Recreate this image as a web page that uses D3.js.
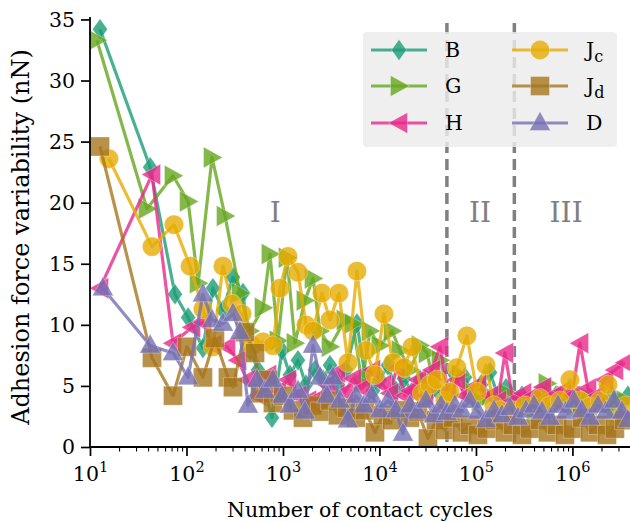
<!DOCTYPE html>
<html><head><meta charset="utf-8">
<script src="https://cdn.jsdelivr.net/npm/d3@7"></script>
<style>
body{margin:0;background:#fff}
svg{display:block}
text{font-family:"DejaVu Serif",serif;fill:#000}
</style>
</head><body>
<svg id="chart" width="630" height="522"></svg>
<script>
// Adhesion force variability versus number of contact cycles, six samples.
const seriesNames = ["B", "G", "H", "Jc", "Jd", "D"];

const cyclesB = [12.7, 42, 76, 104, 148, 188, 239, 303, 385, 455, 551, 651, 769, 977, 1180, 1430, 1730, 2150, 2600, 3070, 3720, 4500, 5840, 7080, 8570, 10100, 12250, 14800, 17950, 21700, 26300, 31800, 38500, 47700, 60600, 76900, 93100, 112700, 139700, 169100, 204700, 247700, 299700, 363000, 460000, 557500, 674900, 816600, 988600, 1197000, 1448000, 1753000, 2120000, 2566000, 3106000, 3758000];
const valuesB = [34.2, 22.9, 12.5, 10.6, 8.1, 13.0, 11.2, 13.9, 12.6, 7.9, 6.3, 4.6, 2.4, 7.9, 5.9, 7.1, 5.1, 6.3, 5.5, 6.7, 5.1, 6.3, 10.1, 5.9, 4.6, 5.5, 6.7, 4.6, 5.6, 4.5, 5.5, 4.2, 4.8, 4.0, 5.9, 5.7, 4.2, 5.1, 6.1, 4.2, 4.8, 3.8, 4.2, 3.7, 4.5, 3.8, 4.2, 3.7, 4.2, 3.4, 4.0, 3.4, 3.8, 4.2, 3.6, 4.2];

const cyclesG = [11.8, 38.9, 72.5, 104, 132, 184, 251, 358, 455, 621, 733, 887, 1100, 1330, 1690, 2050, 2420, 3070, 4390, 5310, 6590, 7980, 10100, 13500, 16300, 20700, 26300, 31100, 35800, 42400, 53800, 68300, 86600, 110000, 139700, 177300, 209600, 253700, 322000, 408600, 544200, 658900, 835700, 1062000, 1349000, 1710000, 2171000, 2754000, 3499000];
const valuesG = [33.3, 19.5, 22.2, 20.1, 13.4, 23.7, 18.9, 12.6, 9.5, 11.4, 15.8, 8.7, 15.5, 8.5, 12.0, 13.8, 9.5, 8.2, 10.4, 10.1, 5.2, 9.5, 8.3, 9.5, 7.9, 6.3, 8.3, 7.7, 5.5, 7.1, 4.2, 5.9, 4.6, 3.8, 4.2, 3.0, 4.4, 3.4, 3.8, 3.0, 5.2, 3.8, 4.2, 3.4, 4.2, 3.4, 3.8, 3.0, 3.8];

const cyclesH = [12.7, 43.9, 72.5, 114, 148, 188, 263, 342, 424, 551, 699, 887, 1127, 1430, 1815, 2307, 2858, 3630, 4389, 5310, 6585, 8360, 10860, 12850, 15180, 18380, 20700, 25060, 29630, 34990, 42370, 51270, 63530, 76900, 104900, 139700, 169100, 199800, 241800, 307000, 390000, 494400, 628300, 797200, 988600, 1197000, 1448000, 1795000, 2171000, 2754000, 3499000];
const valuesH = [13.0, 22.3, 8.5, 9.8, 10.2, 8.3, 8.2, 7.1, 5.5, 4.2, 5.9, 4.6, 5.5, 4.2, 3.8, 4.0, 5.1, 6.1, 4.5, 5.6, 4.8, 6.3, 5.1, 4.4, 6.5, 4.2, 4.6, 5.5, 4.2, 6.3, 8.2, 4.6, 5.5, 4.2, 5.1, 4.2, 3.8, 7.7, 3.8, 4.4, 4.2, 4.9, 4.2, 4.6, 4.2, 8.5, 4.8, 4.2, 5.5, 6.3, 6.9];

const cyclesJc = [15.7, 43.9, 74.2, 109, 148, 188, 239, 296, 376, 477, 621, 787, 930, 1127, 1430, 1730, 2047, 2535, 3069, 3804, 4716, 5843, 7246, 8980, 11130, 13800, 17950, 21720, 27560, 33370, 39450, 47730, 53780, 63530, 80630, 102400, 127000, 153700, 177300, 241800, 322000, 460000, 584600, 741300, 941900, 1197000, 1518000, 1927000, 2333000, 2965000, 3581000];
const valuesJc = [23.6, 16.4, 18.2, 14.8, 11.3, 8.2, 14.8, 11.7, 10.9, 8.3, 8.6, 8.3, 13.0, 15.6, 14.3, 10.0, 9.5, 12.6, 10.4, 12.6, 6.9, 14.4, 7.9, 5.9, 10.9, 6.9, 6.5, 8.2, 4.4, 5.1, 5.5, 3.8, 4.5, 6.5, 9.1, 4.5, 6.7, 3.4, 3.0, 3.0, 3.4, 4.0, 3.4, 3.8, 5.5, 3.8, 3.3, 3.8, 5.1, 2.2, 3.4];

const cyclesJd = [12.7, 43.9, 72.5, 101, 148, 197, 269, 303, 404, 513, 578, 699, 787, 1000, 1270, 1611, 2000, 2417, 3069, 3716, 4603, 5700, 7075, 8980, 10860, 13480, 16300, 20700, 25060, 31820, 38510, 47730, 57780, 71570, 86640, 104900, 130000, 157400, 199800, 241800, 299700, 363000, 460000, 557500, 690800, 835700, 1012000, 1255000, 1518000, 1837000, 2279000, 2754000, 3417000];
const valuesJd = [24.6, 7.3, 4.2, 8.2, 5.7, 8.9, 5.7, 4.9, 9.4, 7.7, 4.4, 5.5, 3.6, 4.2, 3.0, 2.4, 3.4, 2.9, 3.8, 2.6, 3.2, 2.4, 3.0, 1.2, 2.6, 2.2, 3.0, 2.4, 2.9, 0.7, 2.2, 1.4, 2.4, 1.2, 1.8, 1.0, 1.5, 2.2, 1.2, 1.8, 1.0, 1.5, 2.2, 1.2, 1.8, 1.0, 1.5, 2.4, 1.2, 1.8, 1.0, 1.5, 2.2];

const cyclesD = [13.6, 42, 72.5, 104, 148, 184, 239, 303, 358, 434, 538, 651, 787, 977, 1182, 1430, 1690, 2047, 2417, 2858, 3297, 3898, 4716, 5700, 6905, 8360, 10110, 12250, 14830, 17530, 20700, 25060, 30330, 36720, 43400, 50050, 60570, 71570, 86640, 104900, 127000, 153700, 185900, 225200, 272500, 329800, 399500, 482700, 584600, 707600, 856900, 1037000, 1255000, 1518000, 1837000, 2223000, 2692000, 3258000, 3758000];
const valuesD = [13.0, 8.3, 7.7, 5.7, 12.5, 10.4, 10.1, 10.9, 9.4, 3.4, 5.5, 4.6, 5.5, 4.2, 3.4, 4.6, 2.9, 8.3, 5.7, 4.2, 5.7, 3.8, 2.2, 4.2, 3.4, 4.2, 3.0, 3.8, 3.0, 1.1, 3.4, 2.9, 3.8, 2.6, 3.4, 2.8, 3.4, 3.0, 3.8, 2.9, 2.2, 3.0, 2.6, 3.2, 2.4, 3.0, 3.4, 2.9, 2.4, 3.4, 2.9, 3.8, 3.0, 2.4, 3.4, 2.9, 3.8, 2.9, 2.2];

const regimeBounds = [50000, 250000];
const regimeLabels = ["I", "II", "III"];
const regimeLabelCycles = [830, 110000, 860000];
const yTicks = [0, 5, 10, 15, 20, 25, 30, 35];
const xMajorTicks = [10, 100, 1000, 10000, 100000, 1000000];

const seriesColors = ["#1b9e77", "#66a61e", "#e7298a", "#e6ab02", "#a6761d", "#7570b3"];
const seriesMarkers = ["thinDiamond", "triRight", "triLeft", "circle", "square", "triUp"];

const allCycles = [cyclesB, cyclesG, cyclesH, cyclesJc, cyclesJd, cyclesD];
const allValues = [valuesB, valuesG, valuesH, valuesJc, valuesJd, valuesD];
const series = seriesNames.map((name, i) => ({
  name, color: seriesColors[i], marker: seriesMarkers[i],
  points: allCycles[i].map((c, j) => ({c, v: allValues[i][j]}))
}));

const plot = {left: 90, right: 630, top: 17, bottom: 447};
const x = d3.scaleLog().domain([10, 3.95e6]).range([plot.left, plot.right]);
const y = d3.scaleLinear().domain([0, 35.2]).range([plot.bottom, plot.top]);

const svg = d3.select("#chart");

svg.append("defs").append("clipPath").attr("id", "plotClip")
  .append("rect").attr("x", plot.left).attr("y", plot.top - 10)
  .attr("width", plot.right - plot.left).attr("height", plot.bottom - plot.top + 10);

// marker shapes, centred on the origin
function markerPath(kind) {
  switch (kind) {
    case "thinDiamond": return "M0,-10.5L7.5,0L0,10.5L-7.5,0Z";
    case "triRight": return "M10.5,0L-8.5,-10.5L-8.5,10.5Z";
    case "triLeft": return "M-10.5,0L8.5,-10.5L8.5,10.5Z";
    case "triUp": return "M0,-11.5L10.5,7.5L-10.5,7.5Z";
    case "square": return "M-9.5,-9.5H9.5V9.5H-9.5Z";
    case "circle": return d3.symbol(d3.symbolCircle, Math.PI * 9.7 * 9.7)();
  }
}

// regime boundaries
const bounds = svg.append("g");
regimeBounds.forEach(b => {
  bounds.append("line")
    .attr("x1", x(b)).attr("x2", x(b))
    .attr("y1", plot.top + 6).attr("y2", plot.bottom)
    .attr("stroke", "#808080").attr("stroke-width", 3.5)
    .attr("stroke-dasharray", "11,6");
});

// regime labels
regimeLabels.forEach((t, i) => {
  svg.append("text").attr("x", x(regimeLabelCycles[i])).attr("y", 222)
    .attr("text-anchor", "middle").style("font-size", "28px")
    .style("fill", "#808080").text(t);
});

// series lines and markers
const dataLayer = svg.append("g").attr("clip-path", "url(#plotClip)");
const line = d3.line().x(d => x(d.c)).y(d => y(d.v));
series.forEach(s => {
  const g = dataLayer.append("g");
  g.append("path").datum(s.points).attr("d", line)
    .attr("fill", "none").attr("stroke", s.color)
    .attr("stroke-width", 3.2).attr("stroke-opacity", 0.8)
    .attr("stroke-linejoin", "round");
  g.selectAll("path.m").data(s.points).join("path").attr("class", "m")
    .attr("d", markerPath(s.marker))
    .attr("transform", d => `translate(${x(d.c)},${y(d.v)})`)
    .attr("fill", s.color).attr("fill-opacity", 0.8)
    .attr("stroke", "#fff").attr("stroke-opacity", 0.3).attr("stroke-width", 1);
});

// axes
const yAxis = svg.append("g").attr("transform", `translate(${plot.left},0)`)
  .call(d3.axisLeft(y).tickValues(yTicks).tickSize(9).tickPadding(6).tickFormat(d3.format("d")));
yAxis.select(".domain").attr("d", `M0,${plot.top}V${plot.bottom}`).attr("stroke-width", 1.8);
yAxis.selectAll(".tick line").attr("stroke-width", 1.7);
yAxis.selectAll(".tick text").style("font-size", "20.5px").attr("font-family", null);

const minorTicks = [];
for (let e = 1; e <= 6; e++) for (let m = 2; m <= 9; m++) {
  const v = m * Math.pow(10, e);
  if (v <= 3.95e6) minorTicks.push(v);
}
const xMinor = svg.append("g").attr("transform", `translate(0,${plot.bottom})`)
  .call(d3.axisBottom(x).tickValues(minorTicks).tickSize(4.5).tickFormat(""));
xMinor.select(".domain").remove();
xMinor.selectAll(".tick line").attr("stroke-width", 1.1);

const xAxis = svg.append("g").attr("transform", `translate(0,${plot.bottom})`)
  .call(d3.axisBottom(x).tickValues(xMajorTicks).tickSize(9).tickFormat(""));
xAxis.select(".domain").attr("d", `M${plot.left},0H${plot.right}`).attr("stroke-width", 1.8);
xAxis.selectAll(".tick line").attr("stroke-width", 1.7);
xAxis.selectAll(".tick").append("text")
  .attr("y", 34).attr("text-anchor", "middle").attr("fill", "#000")
  .style("font-size", "20.5px").attr("font-family", null)
  .each(function(d) {
    const t = d3.select(this);
    t.append("tspan").text("10");
    t.append("tspan").attr("dy", -9).style("font-size", "14.5px").text(Math.round(Math.log10(d)));
  });

svg.append("text").attr("x", 360).attr("y", 517).attr("text-anchor", "middle")
  .style("font-size", "20.5px").text("Number of contact cycles");
svg.append("text").attr("transform", "translate(29,237) rotate(-90)")
  .attr("text-anchor", "middle").style("font-size", "24px")
  .text("Adhesion force variability (nN)");

// legend
const lg = svg.append("g");
lg.append("rect").attr("x", 363).attr("y", 32).attr("width", 254).attr("height", 115)
  .attr("rx", 4).attr("fill", "#ebebeb").attr("fill-opacity", 0.82);
const rowsY = [50, 86, 123];
series.forEach((s, i) => {
  const col = Math.floor(i / 3), row = i % 3;
  const x0 = col === 0 ? 371 : 512;
  const cy = rowsY[row];
  lg.append("line").attr("x1", x0).attr("x2", x0 + 56).attr("y1", cy).attr("y2", cy)
    .attr("stroke", s.color).attr("stroke-width", 3.2).attr("stroke-opacity", 0.8);
  lg.append("path").attr("d", markerPath(s.marker))
    .attr("transform", `translate(${x0 + 28},${cy})`)
    .attr("fill", s.color).attr("fill-opacity", 0.8)
    .attr("stroke", "#fff").attr("stroke-opacity", 0.3).attr("stroke-width", 1);
  const t = lg.append("text").attr("x", x0 + 74).attr("y", cy + 7).style("font-size", "20.5px");
  if (s.name.length > 1) {
    t.append("tspan").text(s.name[0]);
    t.append("tspan").attr("dy", 5).style("font-size", "16px").text(s.name.slice(1));
  } else {
    t.text(s.name);
  }
});
</script>
</body></html>
